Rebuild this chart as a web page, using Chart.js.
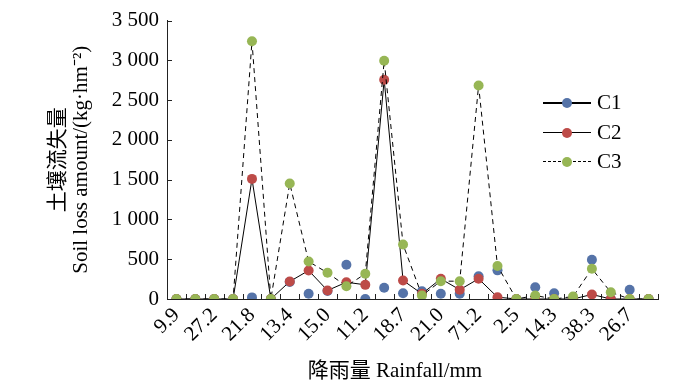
<!DOCTYPE html>
<html>
<head>
<meta charset="utf-8">
<script src="https://cdn.jsdelivr.net/npm/chart.js@4.4.0/dist/chart.umd.min.js"></script>
<style>
body{margin:0;background:#fff;}
#wrap{position:relative;width:700px;height:387px;font-family:"Liberation Serif","Noto Sans CJK SC",serif;color:#000;}
#legend{position:absolute;left:543px;top:88px;}
.row{position:relative;height:29.5px;width:90px;}
.row .ln{position:absolute;left:0;top:14px;width:48px;height:0;border-top:1px solid #000;}
.row .dot{position:absolute;left:19px;top:10px;width:10px;height:10px;border-radius:50%;}
.row .tx{position:absolute;left:54px;top:2px;font-size:21px;line-height:24px;}
#xtitle{position:absolute;left:0;width:790px;text-align:center;top:357px;font-size:21px;line-height:26px;}
</style>
</head>
<body>
<div id="wrap">
<canvas id="chart" width="700" height="387"></canvas>
<div id="legend"></div>
<div id="xtitle">降雨量 Rainfall/mm</div>
</div>
<script>
// rainfall events (only every other one is labelled in the figure)
const rainfall = ["9.9","","27.2","","21.8","","13.4","","15.0","","11.2","","18.7","","21.0","","71.2","","2.5","","14.3","","38.3","","26.7",""]

const c1 = [0,0,0,0,20,0,215,65,100,430,0,141,73,98,65,65,287,360,0,148,73,0,493,0,116,0]
const c2 = [0,0,0,0,1510,0,220,358,107,211,178,2757,233,65,254,116,254,23,0,0,0,0,57,0,0,0]
const c3 = [0,0,0,0,3240,0,1452,471,329,161,317,2995,685,44,224,224,2684,415,0,44,0,31,380,85,0,0]

const names = ["C1","C2","C3"]
const colors = ["#5573a8","#bd4b48","#97b655"]

const yMax = 3500
const yStep = 500

const fmt = v => v >= 1000 ? Math.floor(v/1000) + " " + String(v % 1000).padStart(3,"0") : String(v)

// small tick marks pointing into the plot, like the original figure
const innerTicks = {
  id: "innerTicks",
  beforeDatasetsDraw(chart) {
    const ctx = chart.ctx
    const x = chart.scales.x
    const y = chart.scales.y
    ctx.save()
    ctx.strokeStyle = "#222"
    ctx.lineWidth = 1
    ctx.beginPath()
    for (let i = 0; i <= rainfall.length; i++) {
      const px = Math.round(x.getPixelForValue(i - 0.5)) + 0.5
      ctx.moveTo(px, y.bottom)
      ctx.lineTo(px, y.bottom - 5)
    }
    y.ticks.forEach(t => {
      const py = Math.round(y.getPixelForValue(t.value)) + 0.5
      ctx.moveTo(x.left, py)
      ctx.lineTo(x.left + 5, py)
    })
    ctx.stroke()
    ctx.restore()
  }
}

const font = {family: "'Liberation Serif', 'Noto Sans CJK SC', serif", size: 21}

new Chart(document.getElementById("chart"), {
  type: "line",
  data: {
    labels: rainfall,
    datasets: [
      {label: names[0], data: c1, showLine: false, pointRadius: 5, pointHoverRadius: 5,
       pointBackgroundColor: colors[0], pointBorderWidth: 0, borderColor: "#000", borderWidth: 2, order: 3},
      {label: names[1], data: c2, pointRadius: 5, pointHoverRadius: 5,
       pointBackgroundColor: colors[1], pointBorderWidth: 0, borderColor: "#000", borderWidth: 1, tension: 0, order: 2},
      {label: names[2], data: c3, pointRadius: 5, pointHoverRadius: 5,
       pointBackgroundColor: colors[2], pointBorderWidth: 0, borderColor: "#000", borderWidth: 1, borderDash: [5,4], tension: 0, order: 1}
    ]
  },
  options: {
    responsive: false,
    animation: false,
    layout: {padding: {left: 0, top: 10, right: 42, bottom: 0}},
    plugins: {legend: {display: false}, tooltip: {enabled: false}},
    scales: {
      x: {
        offset: true,
        grid: {display: false, drawTicks: false, offset: true},
        border: {display: true, color: "#222", width: 1},
        ticks: {autoSkip: false, minRotation: 45, maxRotation: 45, padding: 4, color: "#000", font: font},
        afterFit: s => { s.height = 88 }
      },
      y: {
        min: 0, max: yMax,
        grid: {display: false, drawTicks: false},
        border: {display: true, color: "#222", width: 1},
        ticks: {stepSize: yStep, padding: 8, color: "#000", font: font, callback: v => fmt(v)},
        title: {display: true, text: ["土壤流失量", "Soil loss amount/(kg·hm⁻²)"], color: "#000",
                font: {family: font.family, size: 21, lineHeight: 1.1}, padding: {top: 47, bottom: 0}},
        afterFit: s => { s.width = 167 }
      }
    }
  },
  plugins: [innerTicks]
})

// legend: line + marker + name
const legend = document.getElementById("legend")
names.forEach((n, i) => {
  const row = document.createElement("div")
  row.className = "row"
  const border = i === 0 ? "2px solid #000" : i === 1 ? "1px solid #000" : "1px dashed #000"
  row.innerHTML = `<span class="ln" style="border-top:${border}"></span><span class="dot" style="background:${colors[i]}"></span><span class="tx">${n}</span>`
  legend.appendChild(row)
})
</script>
</body>
</html>
